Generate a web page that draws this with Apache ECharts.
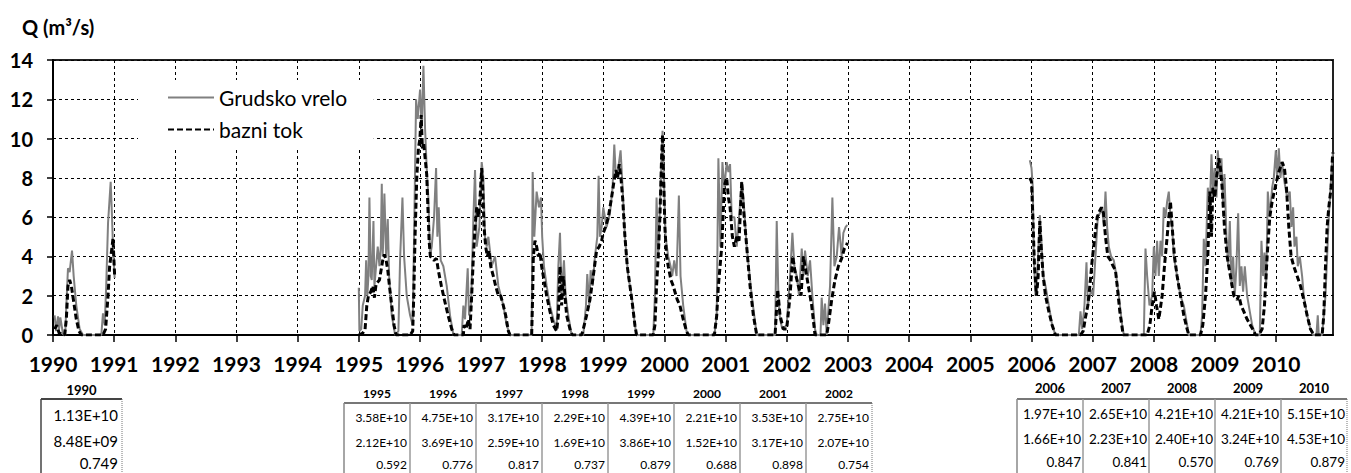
<!DOCTYPE html>
<html>
<head>
<meta charset="utf-8">
<script src="https://cdn.jsdelivr.net/npm/echarts@6/dist/echarts.min.js"></script>
<style>
html,body{margin:0;padding:0;background:#fff;}
#chart{width:1351px;height:473px;}
</style>
</head>
<body>
<div id="chart"></div>
<script>
// ---------------- DATA ----------------
const yearTicks = [1990,1991,1992,1993,1994,1995,1996,1997,1998,1999,2000,2001,2002,2003,2004,2005,2006,2007,2008,2009,2010];

// Grudsko vrelo (measured discharge), [year, Q m3/s]
const grudsko1990 = [[1990.027,1.0],[1990.05,0.2],[1990.082,0.95],[1990.1,0.3],[1990.12,0.9],[1990.163,0.05],[1990.2,0],[1990.218,1.5],[1990.245,3.4],[1990.272,3.2],[1990.311,4.3],[1990.338,3.0],[1990.381,1.5],[1990.436,0.3],[1990.49,0],[1990.79,0],[1990.817,1.1],[1990.845,0.5],[1990.87,2.5],[1990.9,5.7],[1990.943,7.8],[1990.965,6.0],[1990.981,4.5],[1991.008,2.9]];
const grudsko1995 = [[1995.000,2.4],[1995.010,0.2],[1995.040,0.3],[1995.065,1.5],[1995.103,2.0],[1995.120,3.8],[1995.140,2.0],[1995.158,3.0],[1995.174,7.0],[1995.196,3.0],[1995.212,2.8],[1995.240,5.8],[1995.256,2.5],[1995.283,3.5],[1995.310,4.5],[1995.338,3.5],[1995.360,4.5],[1995.376,7.7],[1995.392,4.0],[1995.419,7.2],[1995.447,4.0],[1995.474,5.9],[1995.496,3.0],[1995.539,1.0],[1995.594,0],[1995.648,0.2],[1995.675,3.8],[1995.714,7.0],[1995.741,4.0],[1995.784,2.0],[1995.839,1.0],[1995.882,0.5],[1995.904,5.0],[1995.937,12.0],[1995.964,11.0],[1996.002,12.5],[1996.029,10.5],[1996.057,13.7],[1996.084,10.5],[1996.111,8.5],[1996.138,7.0],[1996.166,4.0],[1996.193,4.5],[1996.231,6.0],[1996.264,8.5],[1996.285,5.0],[1996.307,6.5],[1996.340,3.8],[1996.383,3.5],[1996.438,2.5],[1996.492,1.0],[1996.547,0],[1996.683,0],[1996.710,1.5],[1996.737,0.8],[1996.781,3.4],[1996.803,1.0],[1996.836,1.5],[1996.874,6.0],[1996.901,8.4],[1996.928,4.5],[1996.972,5.5],[1997.010,8.8],[1997.037,8.0],[1997.064,5.0],[1997.092,4.5],[1997.119,5.0],[1997.173,3.5],[1997.228,4.0],[1997.282,2.5],[1997.364,1.5],[1997.418,0.5],[1997.473,0]];
const grudsko1998 = [[1997.827,0],[1997.843,8.3],[1997.870,5.0],[1997.908,7.3],[1997.947,6.5],[1997.979,7.0],[1997.999,5.0],[1998.028,3.5],[1998.072,2.5],[1998.126,1.5],[1998.181,0.8],[1998.235,0.3],[1998.263,3.5],[1998.290,5.2],[1998.317,2.0],[1998.355,3.8],[1998.382,2.0],[1998.426,1.0],[1998.480,0],[1998.671,0],[1998.715,1.5],[1998.736,3.1],[1998.769,1.5],[1998.791,3.3],[1998.824,2.5],[1998.862,4.0],[1998.900,5.0],[1998.922,8.1],[1998.943,5.0],[1998.971,5.5],[1998.998,6.5],[1999.052,5.5],[1999.107,6.2],[1999.150,7.5],[1999.178,9.7],[1999.205,8.0],[1999.243,8.5],[1999.281,9.4],[1999.314,7.5],[1999.352,5.0],[1999.406,3.0],[1999.461,2.0],[1999.515,0.5],[1999.542,0]];
const grudsko2000 = [[1999.815,0],[1999.842,2.0],[1999.869,7.0],[1999.897,4.0],[1999.935,7.5],[1999.967,10.4],[1999.989,8.0],[2000.016,5.0],[2000.060,4.0],[2000.098,3.5],[2000.125,3.0],[2000.158,3.8],[2000.196,3.0],[2000.234,7.1],[2000.261,3.0],[2000.305,1.5],[2000.359,0.2],[2000.387,0],[2000.815,0],[2000.853,1.0],[2000.880,9.0],[2000.913,4.5],[2000.946,8.8],[2000.978,7.5],[2001.016,8.8],[2001.044,8.3],[2001.071,8.7],[2001.098,6.0],[2001.142,6.0],[2001.180,4.5],[2001.218,6.0],[2001.262,7.8],[2001.289,7.0],[2001.343,4.5],[2001.425,2.0],[2001.507,0]];
const grudsko2002 = [[2001.807,0],[2001.834,5.8],[2001.861,2.0],[2001.888,0.8],[2001.926,0.3],[2001.997,0.5],[2002.052,3.0],[2002.090,5.2],[2002.123,3.5],[2002.161,3.0],[2002.199,2.0],[2002.243,4.4],[2002.270,3.0],[2002.297,4.3],[2002.341,3.0],[2002.379,3.8],[2002.417,2.0],[2002.460,0.3],[2002.488,0],[2002.550,0],[2002.569,1.9],[2002.597,0.5],[2002.624,1.6],[2002.651,0],[2002.706,2.5],[2002.744,7.0],[2002.777,3.5],[2002.815,4.0],[2002.853,5.5],[2002.896,4.0],[2002.924,5.2],[2002.962,5.5],[2002.989,5.6]];
const grudsko2006 = [[2005.973,8.9],[2006.000,8.5],[2006.022,7.5],[2006.038,4.0],[2006.065,2.0],[2006.093,3.0],[2006.136,6.1],[2006.158,5.0],[2006.191,3.0],[2006.229,2.5],[2006.283,1.5],[2006.338,0.5],[2006.392,0],[2006.774,0],[2006.801,1.2],[2006.828,0.3],[2006.866,1.5],[2006.899,3.7],[2006.921,1.5],[2006.954,2.0],[2006.975,2.3],[2007.008,2.0],[2007.046,4.0],[2007.084,6.0],[2007.117,6.2],[2007.155,6.5],[2007.183,5.5],[2007.210,7.3],[2007.237,5.5],[2007.264,4.5],[2007.302,4.0],[2007.346,3.8],[2007.373,3.3],[2007.428,2.0],[2007.482,0.5],[2007.510,0],[2007.837,0],[2007.864,4.4],[2007.891,3.0],[2007.929,1.5],[2007.973,2.0],[2008.000,4.5],[2008.027,3.0],[2008.054,4.8],[2008.082,3.0],[2008.109,4.8],[2008.136,4.0],[2008.163,6.5],[2008.191,6.0],[2008.218,6.8],[2008.245,7.3],[2008.272,6.0],[2008.300,5.5],[2008.327,4.0],[2008.381,3.0],[2008.436,2.0],[2008.490,1.5],[2008.545,0.5],[2008.572,0]];
const grudsko2009 = [[2008.763,0],[2008.790,1.0],[2008.817,4.9],[2008.845,3.5],[2008.883,7.5],[2008.916,6.5],[2008.943,9.2],[2008.970,7.0],[2008.992,8.5],[2009.025,7.0],[2009.046,9.4],[2009.079,8.0],[2009.106,9.0],[2009.134,6.5],[2009.155,8.2],[2009.188,5.0],[2009.215,3.5],[2009.243,5.8],[2009.270,2.5],[2009.297,4.0],[2009.324,2.0],[2009.351,3.5],[2009.379,6.2],[2009.406,2.5],[2009.433,3.5],[2009.460,2.2],[2009.488,3.5],[2009.526,2.0],[2009.569,1.2],[2009.608,0.5],[2009.662,0],[2009.733,0],[2009.760,4.8],[2009.787,3.0],[2009.809,4.2],[2009.837,2.5],[2009.864,7.3],[2009.896,6.0],[2009.935,7.5],[2009.962,8.0],[2009.995,9.4],[2010.016,8.0],[2010.044,9.5],[2010.071,8.0],[2010.098,8.8],[2010.125,8.0],[2010.180,7.0],[2010.223,7.3],[2010.251,5.5],[2010.278,6.5],[2010.300,4.5],[2010.332,5.0],[2010.354,3.5],[2010.387,4.0],[2010.425,3.0],[2010.452,2.0],[2010.507,1.0],[2010.561,0.3],[2010.605,0],[2010.659,0],[2010.681,1.0],[2010.697,0],[2010.752,0],[2010.807,2.0],[2010.861,6.0],[2010.905,8.3],[2010.930,9.3]];

// bazni tok (baseflow), [year, Q m3/s]
const bazni1990 = [[1990.027,0.3],[1990.06,0.5],[1990.1,0.1],[1990.19,0],[1990.218,0.8],[1990.245,2.5],[1990.272,2.8],[1990.3,2.5],[1990.338,1.7],[1990.381,0.8],[1990.425,0.2],[1990.463,0],[1990.817,0],[1990.86,0.3],[1990.9,2.0],[1990.926,3.5],[1990.954,4.2],[1990.981,4.9],[1991.008,3.0]];
const bazni1995 = [[1995.000,0],[1995.065,0.1],[1995.103,0.3],[1995.131,1.5],[1995.158,2.0],[1995.196,2.2],[1995.229,2.5],[1995.256,1.9],[1995.283,2.6],[1995.310,2.7],[1995.338,2.8],[1995.359,3.2],[1995.392,3.8],[1995.419,4.1],[1995.447,3.8],[1995.474,3.3],[1995.501,2.5],[1995.539,1.5],[1995.577,0.5],[1995.610,0],[1995.839,0],[1995.882,0.2],[1995.899,2.0],[1995.920,5.0],[1995.948,8.0],[1995.975,9.5],[1996.000,10.0],[1996.020,11.2],[1996.040,9.5],[1996.060,9.8],[1996.085,9.0],[1996.110,8.2],[1996.130,6.5],[1996.150,4.8],[1996.170,4.0],[1996.200,3.9],[1996.230,3.8],[1996.270,3.9],[1996.300,3.3],[1996.350,2.5],[1996.400,1.8],[1996.460,1.0],[1996.520,0.3],[1996.558,0],[1996.710,0],[1996.721,0.5],[1996.754,0.3],[1996.792,0.8],[1996.819,0.3],[1996.846,2.0],[1996.874,4.0],[1996.901,5.5],[1996.928,6.5],[1996.955,6.0],[1996.983,7.0],[1997.010,8.5],[1997.026,7.5],[1997.048,5.5],[1997.075,4.5],[1997.102,4.0],[1997.130,4.3],[1997.157,3.5],[1997.200,3.0],[1997.238,2.5],[1997.282,2.0],[1997.320,2.0],[1997.364,1.5],[1997.402,1.0],[1997.446,0.2],[1997.473,0]];
const bazni1998 = [[1997.827,0],[1997.843,2.0],[1997.854,4.0],[1997.881,4.8],[1997.908,4.5],[1997.936,4.0],[1997.963,4.2],[1997.990,3.5],[1998.017,3.0],[1998.045,2.5],[1998.072,2.0],[1998.126,1.2],[1998.181,0.5],[1998.235,0.2],[1998.263,1.0],[1998.290,3.5],[1998.317,1.5],[1998.344,3.0],[1998.371,2.0],[1998.399,1.0],[1998.453,0.3],[1998.491,0],[1998.644,0],[1998.671,0.3],[1998.725,1.0],[1998.780,1.8],[1998.834,3.0],[1998.889,4.3],[1998.932,4.5],[1998.971,4.8],[1998.998,5.2],[1999.036,5.5],[1999.080,6.0],[1999.134,7.0],[1999.172,7.8],[1999.205,8.4],[1999.232,8.0],[1999.259,8.7],[1999.287,8.0],[1999.314,7.0],[1999.352,5.0],[1999.390,3.5],[1999.434,2.5],[1999.477,1.5],[1999.515,0.5],[1999.542,0]];
const bazni2000 = [[1999.815,0],[1999.842,0.5],[1999.869,2.5],[1999.897,4.0],[1999.924,6.0],[1999.951,9.0],[1999.967,10.2],[1999.989,7.5],[2000.005,5.5],[2000.033,4.0],[2000.060,3.5],[2000.104,2.8],[2000.142,2.5],[2000.169,2.2],[2000.207,1.8],[2000.251,1.5],[2000.305,0.8],[2000.359,0.2],[2000.387,0],[2000.815,0],[2000.853,1.0],[2000.880,2.5],[2000.935,4.5],[2000.978,7.6],[2001.016,8.0],[2001.044,7.0],[2001.071,6.5],[2001.109,5.0],[2001.142,4.5],[2001.180,5.0],[2001.218,4.8],[2001.262,7.8],[2001.289,6.5],[2001.343,4.5],[2001.398,2.5],[2001.452,1.0],[2001.507,0]];
const bazni2002 = [[2001.807,0],[2001.850,2.3],[2001.888,1.0],[2001.943,0.3],[2001.997,0.3],[2002.052,2.0],[2002.095,4.0],[2002.134,3.2],[2002.188,2.5],[2002.232,2.0],[2002.270,4.0],[2002.308,3.3],[2002.351,2.5],[2002.406,1.5],[2002.460,0],[2002.651,0],[2002.678,0.5],[2002.733,1.8],[2002.787,2.8],[2002.842,3.5],[2002.896,3.9],[2002.940,4.4],[2002.978,4.6],[2002.989,4.7]];
const bazni2006 = [[2005.973,8.0],[2006.000,7.8],[2006.022,6.0],[2006.049,3.5],[2006.082,2.0],[2006.109,3.0],[2006.136,5.8],[2006.158,4.5],[2006.191,3.0],[2006.229,2.0],[2006.283,1.2],[2006.338,0.5],[2006.392,0],[2006.801,0],[2006.845,0.2],[2006.883,0.9],[2006.921,1.5],[2006.954,2.5],[2006.992,3.8],[2007.035,5.0],[2007.074,6.0],[2007.112,6.3],[2007.144,6.5],[2007.177,6.2],[2007.210,5.0],[2007.248,4.0],[2007.292,3.8],[2007.335,3.5],[2007.373,3.3],[2007.401,2.5],[2007.444,1.2],[2007.499,0],[2007.891,0],[2007.935,0.5],[2007.973,1.5],[2008.011,2.2],[2008.044,1.5],[2008.082,0.8],[2008.136,2.0],[2008.174,3.5],[2008.218,5.0],[2008.245,6.0],[2008.272,6.8],[2008.300,5.5],[2008.338,4.0],[2008.381,3.0],[2008.436,2.0],[2008.490,1.0],[2008.545,0.3],[2008.572,0]];
const bazni2009 = [[2008.763,0],[2008.801,0.5],[2008.845,2.0],[2008.883,4.0],[2008.916,7.3],[2008.943,5.0],[2008.965,7.5],[2008.997,7.0],[2009.025,8.0],[2009.063,9.0],[2009.090,8.5],[2009.117,7.5],[2009.155,5.5],[2009.199,4.0],[2009.253,3.0],[2009.308,2.0],[2009.362,1.8],[2009.390,2.0],[2009.428,1.5],[2009.471,1.2],[2009.526,0.8],[2009.580,0.5],[2009.635,0.2],[2009.662,0],[2009.717,0],[2009.771,0.3],[2009.809,1.5],[2009.853,4.0],[2009.896,6.0],[2009.935,6.8],[2009.962,7.2],[2010.005,7.8],[2010.044,8.3],[2010.098,8.8],[2010.136,8.5],[2010.169,7.5],[2010.207,5.5],[2010.245,4.0],[2010.289,3.5],[2010.343,3.0],[2010.398,2.5],[2010.452,1.8],[2010.507,1.0],[2010.561,0.3],[2010.616,0],[2010.752,0],[2010.779,1.0],[2010.807,3.5],[2010.834,5.5],[2010.861,6.5],[2010.899,7.5],[2010.920,9.0],[2010.930,9.3]];

// Tables below the chart
const tableYearsA = ['1990'];
const tableYearsB = ['1995','1996','1997','1998','1999','2000','2001','2002'];
const tableYearsC = ['2006','2007','2008','2009','2010'];
const totalVolume = {'1990':'1.13E+10','1995':'3.58E+10','1996':'4.75E+10','1997':'3.17E+10','1998':'2.29E+10','1999':'4.39E+10','2000':'2.21E+10','2001':'3.53E+10','2002':'2.75E+10','2006':'1.97E+10','2007':'2.65E+10','2008':'4.21E+10','2009':'4.21E+10','2010':'5.15E+10'};
const baseVolume = {'1990':'8.48E+09','1995':'2.12E+10','1996':'3.69E+10','1997':'2.59E+10','1998':'1.69E+10','1999':'3.86E+10','2000':'1.52E+10','2001':'3.17E+10','2002':'2.07E+10','2006':'1.66E+10','2007':'2.23E+10','2008':'2.40E+10','2009':'3.24E+10','2010':'4.53E+10'};
const baseIndex = {'1990':'0.749','1995':'0.592','1996':'0.776','1997':'0.817','1998':'0.737','1999':'0.879','2000':'0.688','2001':'0.898','2002':'0.754','2006':'0.847','2007':'0.841','2008':'0.570','2009':'0.769','2010':'0.879'};

// ---------------- BUILD ----------------
const GAP = (t) => [t, '-'];
const grudskoData = [].concat(grudsko1990, [GAP(1993)], grudsko1995, grudsko1998, grudsko2000, grudsko2002, [GAP(2004.5)], grudsko2006, grudsko2009);
const bazniData = [].concat(bazni1990, [GAP(1993)], bazni1995, bazni1998, bazni2000, bazni2002, [GAP(2004.5)], bazni2006, bazni2009);

const FONT = 'Lato, "Open Sans", sans-serif';

function tableGraphics(years, cfg) {
  const els = [];
  const n = years.length;
  const right = cfg.left + n * cfg.colW;
  els.push({type:'line', shape:{x1:cfg.left, y1:cfg.top, x2:right, y2:cfg.top}, style:{stroke:cfg.topColor, lineWidth:2}, silent:true});
  els.push({type:'line', shape:{x1:cfg.left, y1:cfg.top, x2:cfg.left, y2:473}, style:{stroke:cfg.leftColor, lineWidth:1.5}, silent:true});
  for (let i = 1; i < n; i++) {
    const x = cfg.left + i * cfg.colW;
    els.push({type:'line', shape:{x1:x, y1:cfg.top, x2:x, y2:473}, style:{stroke:'#9a9a9a', lineWidth:1.5}, silent:true});
  }
  els.push({type:'line', shape:{x1:right, y1:cfg.top, x2:right, y2:473}, style:{stroke:'#777', lineWidth:1, lineDash:[1,1]}, silent:true});
  years.forEach((yr, i) => {
    const cx = cfg.left + (i + 0.5) * cfg.colW;
    const rx = cfg.left + (i + 1) * cfg.colW - cfg.pad;
    els.push({type:'text', silent:true, style:{text:yr, x:cx, y:cfg.headY, align:'center', verticalAlign:'middle', fill:'#000', fontFamily:FONT, fontWeight:'bold', fontSize:cfg.headSize}});
    [totalVolume[yr], baseVolume[yr], baseIndex[yr]].forEach((v, r) => {
      els.push({type:'text', silent:true, style:{text:v, x:rx, y:cfg.rowY[r], align:'right', verticalAlign:'middle', fill:'#000', fontFamily:FONT, fontSize:cfg.valSize}});
    });
  });
  return els;
}

const graphics = [].concat(
  tableGraphics(tableYearsA, {left:41, colW:81, top:399, headY:390, rowY:[415,441,463], pad:4, headSize:13, valSize:15, topColor:'#444', leftColor:'#444'}),
  tableGraphics(tableYearsB, {left:344, colW:66, top:403, headY:393, rowY:[417,442,464], pad:3, headSize:12, valSize:12, topColor:'#777', leftColor:'#888'}),
  tableGraphics(tableYearsC, {left:1017, colW:66, top:399, headY:388, rowY:[414,439,462], pad:2, headSize:13, valSize:13.5, topColor:'#777', leftColor:'#888'})
);

const chart = echarts.init(document.getElementById('chart'), null, {renderer:'svg'});
chart.setOption({
  animation: false,
  backgroundColor: '#fff',
  title: {
    text: 'Q (m³/s)', left: 17, top: 12,
    textStyle: {fontFamily: FONT, fontWeight: 'bold', fontSize: 20, color: '#000'}
  },
  legend: {
    data: ['Grudsko vrelo', 'bazni tok'],
    orient: 'vertical',
    left: 138, top: 80,
    padding: [7, 26, 7, 29],
    backgroundColor: '#fff',
    itemWidth: 46, itemHeight: 20, itemGap: 11,
    itemStyle: {color: 'transparent', borderColor: 'transparent', borderWidth: 0, opacity: 0},
    textStyle: {fontFamily: FONT, fontSize: 21, color: '#000'}
  },
  grid: {left: 53, right: 18, top: 60, bottom: 138, show: true, borderColor: '#222', borderWidth: 2, backgroundColor: 'transparent'},
  xAxis: {
    type: 'value', min: 1990, max: 2010.93, interval: 1,
    axisLine: {show: true, onZero: false, lineStyle: {color: '#000', width: 2}},
    axisTick: {show: true, length: 7, lineStyle: {color: '#000', width: 1.5}, customValues: yearTicks},
    axisLabel: {customValues: yearTicks, margin: 18, fontFamily: FONT, fontWeight: 'bold', fontSize: 21, color: '#000', formatter: v => String(v)},
    splitLine: {show: true, lineStyle: {color: '#000', width: 1, type: [3, 3]}}
  },
  yAxis: {
    type: 'value', min: 0, max: 14, interval: 2,
    axisLine: {show: true, lineStyle: {color: '#000', width: 2}},
    axisTick: {show: true, length: 6, lineStyle: {color: '#000', width: 1.5}},
    axisLabel: {margin: 20, fontFamily: FONT, fontWeight: 'bold', fontSize: 20, color: '#000'},
    splitLine: {show: true, lineStyle: {color: '#000', width: 1, type: [3, 3]}}
  },
  series: [
    {
      name: 'Grudsko vrelo', type: 'line', data: grudskoData, symbol: 'none', showSymbol: false,
      connectNulls: false, z: 3,
      lineStyle: {color: '#808080', width: 2}, itemStyle: {color: '#808080'}
    },
    {
      name: 'bazni tok', type: 'line', data: bazniData, symbol: 'none', showSymbol: false,
      connectNulls: false, z: 4,
      lineStyle: {color: '#000', width: 3, type: [6, 3]}, itemStyle: {color: '#000'}
    }
  ],
  graphic: graphics
});
</script>
</body>
</html>
